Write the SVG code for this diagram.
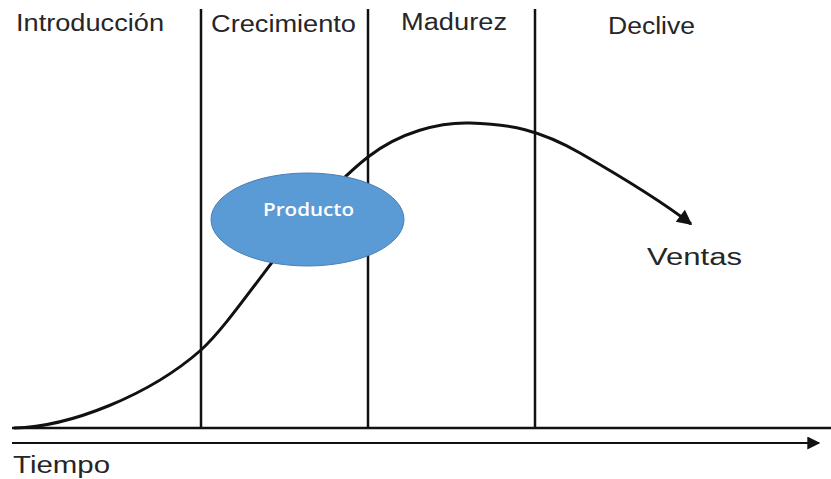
<svg xmlns="http://www.w3.org/2000/svg" width="831" height="479" viewBox="0 0 831 479">
  <style>
    .lbl { font-family: "Liberation Sans", Arial, sans-serif; font-size: 23px; fill: #262626; }
    .ln { stroke: #111; fill: none; }
    .node-text { font-family: "Open Sans", "Noto Sans", sans-serif; font-weight: 600; font-size: 18px; fill: #ffffff; }
  </style>
  <defs>
    <marker id="arrow" viewBox="0 0 10 10" refX="9" refY="5" markerWidth="6.5" markerHeight="5" markerUnits="strokeWidth" orient="auto">
      <path d="M0,0 L10,5 L0,10 Z" fill="#111"/>
    </marker>
    <marker id="arrowAxis" viewBox="0 0 10 10" refX="9" refY="5" markerWidth="10" markerHeight="6.5" markerUnits="strokeWidth" orient="auto">
      <path d="M0,0 L10,5 L0,10 Z" fill="#111"/>
    </marker>
  </defs>
  <rect width="831" height="479" fill="#ffffff"/>

  <g id="connectors">
    <line class="ln" x1="201" y1="9" x2="201" y2="428" stroke-width="2.5"/>
    <line class="ln" x1="368" y1="9" x2="368" y2="428" stroke-width="2.5"/>
    <line class="ln" x1="535" y1="9" x2="535" y2="428" stroke-width="2.5"/>
    <line class="ln" x1="12" y1="428" x2="831" y2="428" stroke-width="2.5"/>
    <line class="ln" x1="12" y1="443" x2="819" y2="443" stroke-width="2" marker-end="url(#arrowAxis)"/>
    <path id="curve" class="ln" stroke-width="3" marker-end="url(#arrow)"
      d="M14,428 C70,427 150,395 201,350 C240,315 300,210 368,157 C400,132 440,122 470,123 C510,124 540,130 580,153 C620,176 660,200 691,224"/>
  </g>

  <g id="producto">
    <ellipse cx="307.5" cy="219.5" rx="96.5" ry="46.5" fill="#5b9bd5" stroke="#4a7fb3" stroke-width="1"/>
    <text class="node-text" x="263" y="216" textLength="91" lengthAdjust="spacingAndGlyphs">Producto</text>
  </g>

  <g id="label-introduccion"><text class="lbl" x="16" y="31" textLength="148" lengthAdjust="spacingAndGlyphs">Introducción</text></g>
  <g id="label-crecimiento"><text class="lbl" x="211" y="32" textLength="145" lengthAdjust="spacingAndGlyphs">Crecimiento</text></g>
  <g id="label-madurez"><text class="lbl" x="401" y="30" textLength="106" lengthAdjust="spacingAndGlyphs">Madurez</text></g>
  <g id="label-declive"><text class="lbl" x="608" y="34" textLength="87" lengthAdjust="spacingAndGlyphs">Declive</text></g>
  <g id="label-ventas"><text class="lbl" x="647" y="265" textLength="95" lengthAdjust="spacingAndGlyphs">Ventas</text></g>
  <g id="label-tiempo"><text class="lbl" x="13" y="473" textLength="97" lengthAdjust="spacingAndGlyphs">Tiempo</text></g>
</svg>
